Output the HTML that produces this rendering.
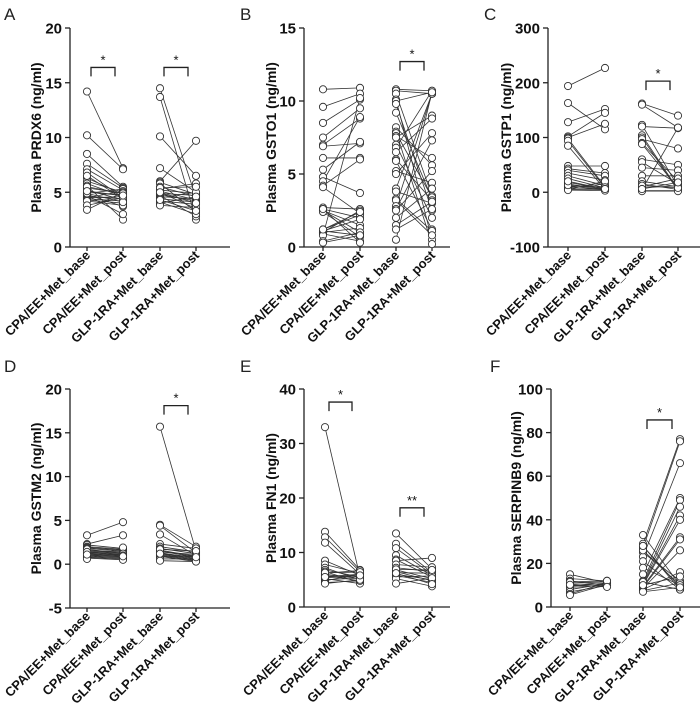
<!DOCTYPE html>
<html><head><meta charset="utf-8">
<style>
html,body{margin:0;padding:0;background:#fff;}
svg{display:block;font-family:"Liberation Sans",Arial,sans-serif;}
</style></head>
<body>
<svg id="fig" width="700" height="707" viewBox="0 0 700 707"></svg>
<script>
const categories = ["CPA/EE+Met_base","CPA/EE+Met_post","GLP-1RA+Met_base","GLP-1RA+Met_post"];

const aBase1=[14.2,10.2,8.5,7.6,7.1,6.8,6.3,6.0,5.8,5.6,5.4,5.2,5.0,4.9,4.8,4.7,4.6,4.5,4.5,4.4,4.3,4.2,3.8,3.4,5.5,6.5,4.9,5.1];
const aPost1=[7.2,7.1,5.5,5.4,5.2,4.5,4.8,5.0,4.6,2.5,4.9,4.3,4.7,5.3,3.7,3.0,4.4,4.6,5.1,4.2,4.0,3.8,4.5,5.0,4.9,4.4,4.1,4.7];
const aBase2=[14.5,13.7,10.1,7.2,6.0,5.9,5.8,5.5,5.3,5.2,5.1,5.0,4.9,4.8,4.7,4.6,4.5,4.4,4.2,4.1,4.0,3.8,5.4,5.0,4.3];
const aPost2=[4.5,2.5,6.5,5.0,9.7,4.8,3.2,4.6,5.8,4.9,4.3,3.5,4.7,4.2,2.8,4.4,5.0,4.1,3.9,3.0,4.6,3.6,5.5,4.0,3.3];

const bBase1=[10.8,9.6,8.5,7.5,7.0,6.9,6.1,5.3,4.8,4.5,4.2,4.1,2.7,2.6,2.5,2.5,2.4,1.2,1.1,1.1,1.0,1.0,0.9,0.8,0.4,0.3,1.2,2.6];
const bPost1=[10.9,10.5,10.1,9.5,8.8,7.1,6.1,7.2,3.7,8.9,6.0,2.3,2.6,2.0,1.5,1.0,0.7,2.2,0.8,1.9,2.5,1.3,0.4,10.2,1.0,0.8,2.4,0.3];
const bBase2=[10.8,10.7,10.5,10.1,10.0,9.8,9.2,8.2,7.9,7.8,7.6,7.5,7.0,6.8,6.5,6.0,5.9,5.2,5.0,4.0,3.8,3.3,3.2,2.8,2.6,2.5,2.0,1.5,1.2,0.5];
const bPost2=[10.7,10.5,3.5,0.5,10.6,2.5,3.3,5.6,0.2,3.4,6.1,9.0,2.0,10.7,8.8,3.2,1.2,4.4,7.8,10.5,3.0,1.1,0.8,10.5,7.3,5.2,4.0,3.1,2.6,10.6];

const cBase1=[194,163,128,102,100,98,94,85,48,43,40,35,30,25,18,15,12,10,8,6,5,5,4,13,20];
const cPost1=[227,115,152,145,125,10,8,5,48,35,30,22,12,8,6,5,4,10,15,7,5,20,3,9,6];
const cBase2=[162,160,123,120,104,100,97,90,88,60,55,45,30,20,15,10,8,5,3,2,12,6];
const cPost2=[140,118,10,117,5,3,80,20,8,50,15,40,30,10,5,25,12,118,3,2,8,18];

const dBase1=[3.3,2.3,2.2,2.0,1.9,1.8,1.6,1.5,1.4,1.3,1.2,1.1,1.0,0.9,0.8,0.7,0.6,1.7,1.4,1.1];
const dPost1=[4.8,3.3,1.8,1.7,1.6,1.5,1.4,1.3,1.2,1.1,1.0,0.9,0.8,0.7,0.6,0.5,1.9,1.2,1.0,0.9];
const dBase2=[15.7,4.5,4.4,3.4,2.3,2.0,1.8,1.6,1.5,1.4,1.3,1.2,1.1,1.0,0.9,0.8,0.6,0.4,1.7,1.2];
const dPost2=[1.5,2.0,1.3,1.0,1.8,1.4,1.2,0.9,0.8,1.1,0.7,0.6,0.5,0.4,0.3,1.0,0.6,0.3,1.5,0.8];

const eBase1=[33,13.8,12.8,11.8,8.5,7.8,7.2,6.8,6.5,6.2,6.0,5.8,5.6,5.4,5.2,5.0,4.8,4.5,4.3,6.3,5.5];
const ePost1=[5.5,6.8,6.5,6.0,5.8,6.2,5.0,5.5,4.5,6.7,5.2,4.8,6.0,5.6,4.3,5.3,6.1,4.8,5.0,6.4,5.8];
const eBase2=[13.5,11.6,10.8,9.5,8.7,8.5,7.8,7.2,6.8,6.5,6.3,6.0,5.8,5.5,5.2,4.3,6.9,6.2];
const ePost2=[7.0,6.3,6.0,5.8,5.5,9.0,7.3,6.5,5.2,4.8,6.2,5.0,4.5,5.7,3.8,5.3,6.8,4.2];

const fBase1=[15,13,12,11,10.5,10,9.5,9,8,7,6,5.5,11.5,10.2];
const fPost1=[11,12,10,11.5,10.5,9.5,11,10,10.8,9.8,11.2,10.3,12,9.2];
const fBase2=[33,29,28,27,25,23,21,18,15,12,11,10.5,10,9.5,9,8.5,8,7.5,7,11.5,10,26,28];
const fPost2=[10,77,8,76,12,66,8,10,50,49,46,42,40,32,31,26,16,11,9,8,14,10,9];

const aTicks=[0,5,10,15,20];
const bTicks=[0,5,10,15];
const cTicks=[-100,0,100,200,300];
const dTicks=[-5,0,5,10,15,20];
const eTicks=[0,10,20,30,40];
const fTicks=[0,20,40,60,80,100];

const NS="http://www.w3.org/2000/svg";
const svg=document.getElementById('fig');
function mk(tag,attrs,parent){const e=document.createElementNS(NS,tag);for(const k in attrs)e.setAttribute(k,attrs[k]);(parent||svg).appendChild(e);return e;}

const panels=[
 {id:'a',letter:'A',lx:4,ly:20,ax:70,top:28,bot:247,xend:230,cx:[87,123,160,196],ticks:aTicks,title:'Plasma PRDX6 (ng/ml)',tx:41,
  g1:[aBase1,aPost1],g2:[aBase2,aPost2],br:[[0,16.4,'*'],[2,16.4,'*']]},
 {id:'b',letter:'B',lx:240,ly:20,ax:304,top:28,bot:247,xend:450,cx:[323,360,396,432],ticks:bTicks,title:'Plasma GSTO1 (ng/ml)',tx:276,
  g1:[bBase1,bPost1],g2:[bBase2,bPost2],br:[[2,12.7,'*']]},
 {id:'c',letter:'C',lx:484,ly:20,ax:548,top:28,bot:247,xend:700,cx:[568,605,642,678],ticks:cTicks,title:'Plasma GSTP1 (ng/ml)',tx:511,
  g1:[cBase1,cPost1],g2:[cBase2,cPost2],br:[[2,203,'*']]},
 {id:'d',letter:'D',lx:4,ly:372,ax:70,top:389,bot:608,xend:230,cx:[87,123,160,196],ticks:dTicks,title:'Plasma GSTM2 (ng/ml)',tx:41,
  g1:[dBase1,dPost1],g2:[dBase2,dPost2],br:[[2,18.1,'*']]},
 {id:'e',letter:'E',lx:240,ly:372,ax:304,top:389,bot:607,xend:450,cx:[325,360,396,432],ticks:eTicks,title:'Plasma FN1 (ng/ml)',tx:276,
  g1:[eBase1,ePost1],g2:[eBase2,ePost2],br:[[0,37.6,'*'],[2,18.2,'**']]},
 {id:'f',letter:'F',lx:490,ly:372,ax:551,top:389,bot:607,xend:700,cx:[570,607,643,680],ticks:fTicks,title:'Plasma SERPINB9 (ng/ml)',tx:521,
  g1:[fBase1,fPost1],g2:[fBase2,fPost2],br:[[2,85.8,'*']]}
];

panels.forEach(p=>{
  const g=mk('g',{});
  
  
  const ymin=p.ticks[0], ymax=p.ticks[p.ticks.length-1];
  const y=v=>p.bot-(v-ymin)/(ymax-ymin)*(p.bot-p.top);
  const L=mk('text',{x:p.lx,y:p.ly,'font-size':17,fill:'#222'},g);L.textContent=p.letter;
  
  
  const ya=mk('line',{x1:p.ax,y1:p.top,x2:p.ax,y2:p.bot,stroke:'#222','stroke-width':1.3},g);
  
  
  const xa=mk('line',{x1:p.ax,y1:p.bot,x2:p.xend,y2:p.bot,stroke:'#222','stroke-width':1.3},g);
  
  
  p.ticks.forEach(t=>{
    mk('line',{x1:p.ax-5,y1:y(t),x2:p.ax,y2:y(t),stroke:'#222','stroke-width':1.3},g);
    const tl=mk('text',{x:p.ax-8,y:y(t)+5.5,'font-size':15,'font-weight':'bold','text-anchor':'end',fill:'#111'},g);
    tl.textContent=t;
    
    
  });
  const yt=mk('text',{x:p.tx,y:(p.top+p.bot)/2,'font-size':14,'font-weight':'bold','text-anchor':'middle',fill:'#111',transform:`rotate(-90 ${p.tx} ${(p.top+p.bot)/2})`},g);
  yt.textContent=p.title;
  
  
  p.cx.forEach((cx,i)=>{
    mk('line',{x1:cx,y1:p.bot,x2:cx,y2:p.bot+4,stroke:'#222','stroke-width':1.3},g);
    const xl=mk('text',{x:cx+4,y:p.bot+9,'font-size':13,'font-weight':'bold','text-anchor':'end',fill:'#111',transform:`rotate(-45 ${cx+4} ${p.bot+9})`},g);
    xl.textContent=categories[i];
    
    
  });
  [p.g1,p.g2].forEach((grp,gi)=>{
    const x0=p.cx[gi*2], x1=p.cx[gi*2+1];
    const [base,post]=grp;
    base.forEach((v,i)=>{
      const ln=mk('line',{x1:x0,y1:y(v),x2:x1,y2:y(post[i]),stroke:'#333','stroke-width':0.8},g);
      
      
    });
    base.forEach(v=>{
      const c=mk('circle',{cx:x0,cy:y(v),r:3.6,fill:'#fff',stroke:'#333','stroke-width':0.9},g);
      
      
    });
    post.forEach(v=>{
      const c=mk('circle',{cx:x1,cy:y(v),r:3.6,fill:'#fff',stroke:'#333','stroke-width':0.9},g);
      
      
    });
  });
  p.br.forEach(b=>{
    const xa0=p.cx[b[0]]+4, xa1=p.cx[b[0]+1]-8, by=y(b[1]);
    const pth=mk('path',{d:`M${xa0},${by+9} V${by} H${xa1} V${by+9}`,fill:'none',stroke:'#222','stroke-width':1.3},g);
    
    
    const st=mk('text',{x:(xa0+xa1)/2,y:by-3,'font-size':13,'text-anchor':'middle',fill:'#111'},g);
    st.textContent=b[2];
    
    
  });
});
</script>
</body></html>
